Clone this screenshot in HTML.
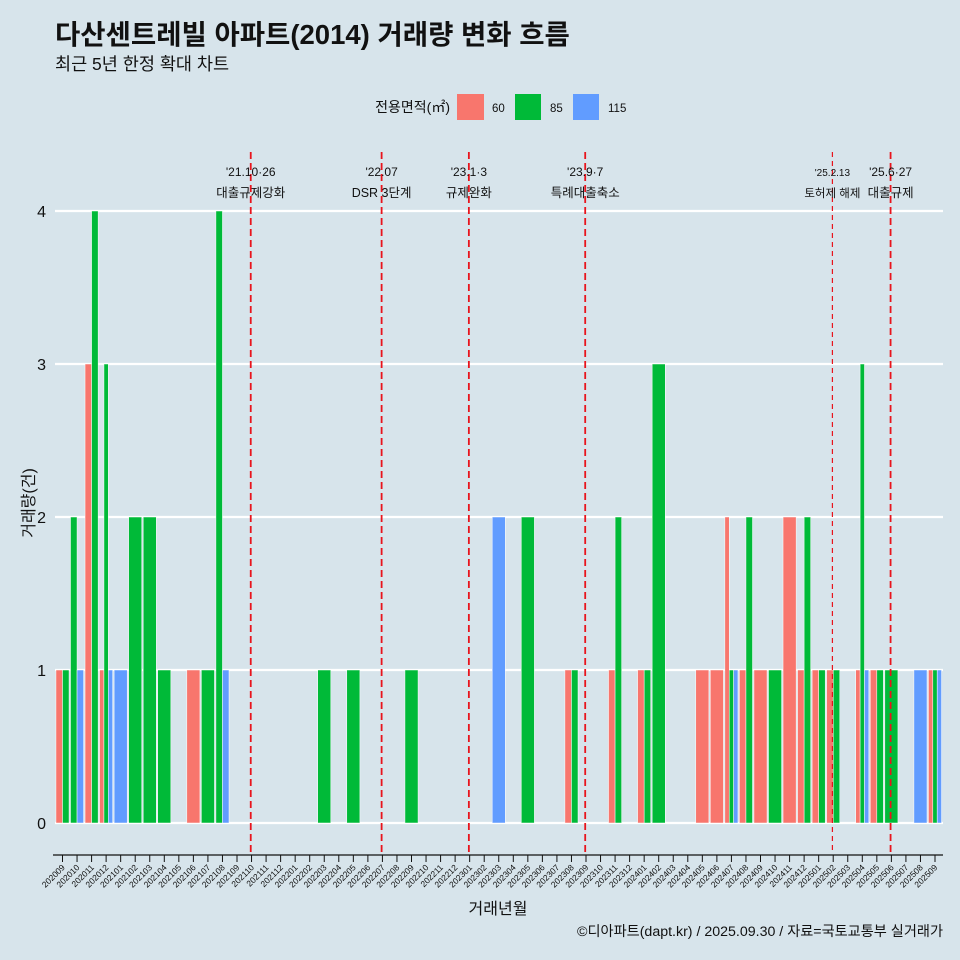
<!DOCTYPE html>
<html><head><meta charset="utf-8"><style>
body{margin:0;background:#d7e4eb;overflow:hidden;}
svg{display:block;}
svg text{font-family:"Liberation Sans","Noto Sans CJK KR",sans-serif;}
</style></head><body>
<svg id="c" width="960" height="960" xmlns="http://www.w3.org/2000/svg">
<rect width="960" height="960" fill="#d7e4eb"/>
<text x="55" y="44" font-size="27.5" font-weight="bold" fill="#111">다산센트레빌 아파트(2014) 거래량 변화 흐름</text>
<text x="55" y="70" font-size="17.5" fill="#111">최근 5년 한정 확대 차트</text>
<g>
<text x="450" y="112" font-size="14" text-anchor="end" fill="#111">전용면적(㎡)</text>
<rect x="457" y="94" width="27" height="26" fill="#f8766d"/>
<text x="492" y="112" font-size="11.5" fill="#111">60</text>
<rect x="515" y="94" width="26" height="26" fill="#00ba38"/>
<text x="550" y="112" font-size="11.5" fill="#111">85</text>
<rect x="573" y="94" width="26" height="26" fill="#619cff"/>
<text x="608" y="112" font-size="11.5" fill="#111">115</text>
</g>
<g id="plot"></g>
<text x="498" y="914" font-size="16" text-anchor="middle" fill="#111">거래년월</text>
<text transform="translate(34,503) rotate(-90)" font-size="16" text-anchor="middle" fill="#111">거래량(건)</text>
<text x="943" y="936" font-size="14.2" text-anchor="end" fill="#111">©디아파트(dapt.kr) / 2025.09.30 / 자료=국토교통부 실거래가</text>
</svg>
<script>
const months=[];for(let y=2020;y<=2025;y++)for(let m=1;m<=12;m++){const k=y*100+m;if(k>=202009&&k<=202509)months.push(String(k));}
const areas=['60','85','115'];
const colors=['#f8766d','#00ba38','#619cff'];
const s60={'202009':1,'202011':3,'202012':1,'202106':1,'202308':1,'202311':1,'202401':1,'202405':1,'202406':1,'202407':2,'202408':1,'202409':1,'202411':2,'202412':1,'202501':1,'202502':1,'202504':1,'202505':1,'202509':1};
const s85={'202009':1,'202010':2,'202011':4,'202012':3,'202102':2,'202103':2,'202104':1,'202107':1,'202108':4,'202203':1,'202205':1,'202209':1,'202305':2,'202308':1,'202311':2,'202401':1,'202402':3,'202407':1,'202408':2,'202410':1,'202412':2,'202501':1,'202502':1,'202504':3,'202505':1,'202506':1,'202509':1};
const s115={'202010':1,'202012':1,'202101':1,'202108':1,'202303':2,'202407':1,'202504':1,'202508':1,'202509':1};
const yTicks=[0,1,2,3,4];
const events=[{m:'202110',d:"'21.10·26",t:'대출규제강화'},{m:'202207',d:"'22.07",t:'DSR 3단계'},{m:'202301',d:"'23.1·3",t:'규제완화'},{m:'202309',d:"'23.9·7",t:'특례대출축소'},{m:'202502',d:"'25.2.13",t:'토허제 해제',small:true},{m:'202506',d:"'25.6·27",t:'대출규제'}];
const NS='http://www.w3.org/2000/svg';const g=document.getElementById('plot');
const x0=62.5,band=(935-62.5)/60;
const X=i=>x0+i*band;const Y=v=>823-v*153;
function mk(t,a){const e=document.createElementNS(NS,t);for(const k in a)e.setAttribute(k,a[k]);g.appendChild(e);return e;}
yTicks.forEach(v=>{const l=mk('line',{x1:55,x2:943,y1:Y(v),y2:Y(v),stroke:'#fff','stroke-width':2.2});


const t=mk('text',{x:46,y:Y(v)+6,'font-size':16,'text-anchor':'end',fill:'#111'});t.textContent=v;

});
const series=[s60,s85,s115];
months.forEach((m,i)=>{const present=[];series.forEach((s,j)=>{if(s[m])present.push(j);});
const w=band*0.9,n=present.length;present.forEach((j,k)=>{const v=series[j][m];const bx=X(i)-w/2+k*w/n;
const r=mk('rect',{x:bx,y:Y(v),width:w/n,height:Y(0)-Y(v),fill:colors[j],stroke:'#fff','stroke-width':0.5});

});
const tk=mk('line',{x1:X(i),x2:X(i),y1:855,y2:862,stroke:'#111','stroke-width':1});


const tl=mk('text',{transform:`translate(${X(i)+3},${868}) rotate(-45)`,'font-size':8.5,'text-anchor':'end',fill:'#111'});tl.textContent=m;

});
const ax=mk('line',{x1:53,x2:943,y1:855,y2:855,stroke:'#111','stroke-width':1.2});


events.forEach(e=>{const i=months.indexOf(e.m);const x=X(i)-0.8;
const l=mk('line',{x1:x,x2:x,y1:152,y2:852,stroke:'#e8141c','stroke-width':e.small?1.2:1.8,'stroke-dasharray':e.small?'5,4':'7,4'});


const a=mk('text',{x:x,y:176,'font-size':e.small?10:12,'text-anchor':'middle',fill:'#111'});a.textContent=e.d;


const b=mk('text',{x:x,y:197,'font-size':e.small?11.5:12.5,'text-anchor':'middle',fill:'#111'});b.textContent=e.t;

});
</script>
</body></html>
